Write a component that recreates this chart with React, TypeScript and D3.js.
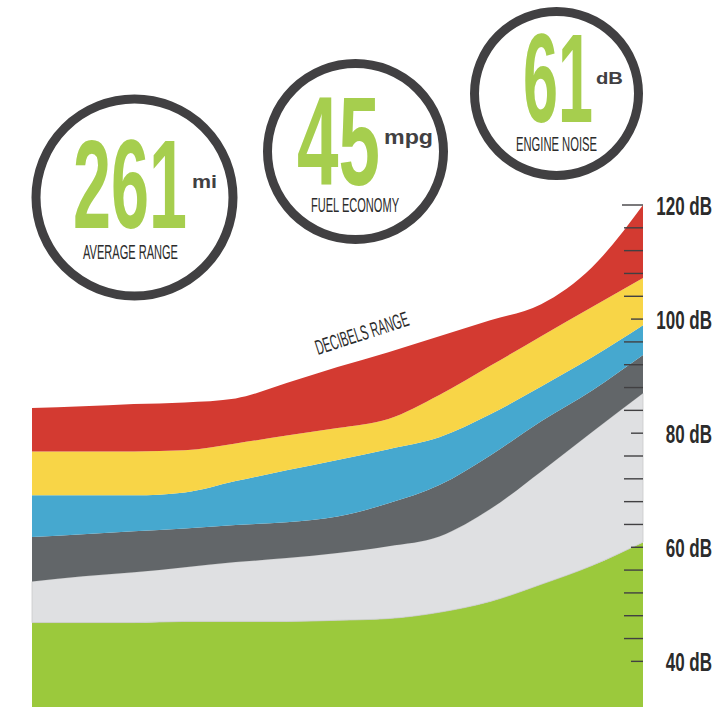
import React from 'react'
import * as d3 from 'd3'

// x positions along the chart (evenly spaced samples)
const POSITIONS = [0, 1, 2, 3, 4, 5, 6, 7, 8, 9, 10, 11, 12]

// upper edge of each band in dB, bottom to top
const GREEN_TOP = [46.8, 46.8, 46.8, 47.0, 47.0, 47.0, 47.2, 47.5, 48.6, 50.5, 53.5, 56.8, 60.9]
const LIGHT_GRAY_TOP = [54.0, 54.9, 55.6, 56.5, 57.4, 58.1, 59.0, 60.2, 61.9, 66.7, 73.3, 80.2, 87.0]
const DARK_GRAY_TOP = [61.8, 62.3, 62.8, 63.3, 63.9, 64.4, 65.4, 67.7, 70.9, 76.1, 82.1, 87.5, 93.7]
const BLUE_TOP = [69.1, 69.1, 69.1, 69.6, 71.6, 73.5, 75.3, 77.2, 79.3, 83.3, 88.2, 93.3, 98.9]
const YELLOW_TOP = [76.8, 76.8, 76.8, 77.0, 78.2, 79.6, 80.9, 82.5, 86.7, 91.8, 97.0, 102.1, 107.2]
const RED_TOP = [84.4, 84.7, 85.1, 85.4, 86.1, 88.8, 91.6, 94.2, 97.0, 99.8, 102.6, 109.1, 120]

const FLOOR_DB = 32
const BAND_TOPS = [GREEN_TOP, LIGHT_GRAY_TOP, DARK_GRAY_TOP, BLUE_TOP, YELLOW_TOP, RED_TOP]
const BAND_COLORS = ['#9bc93c', '#dfe0e2', '#626669', '#46a8cf', '#f8d547', '#d33a31']

// axis
const LABELED_TICKS = [40, 60, 80, 100, 120]
const AXIS_LABELS = ['40 dB', '60 dB', '80 dB', '100 dB', '120 dB']

// badges
const BADGE_VALUES = ['261', '45', '61']
const BADGE_UNITS = ['mi', 'mpg', 'dB']
const BADGE_LABELS = ['AVERAGE RANGE', 'FUEL ECONOMY', 'ENGINE NOISE']

const BADGE_LAYOUT = [
  { cx: 134.5, cy: 197.5, r: 98.5, num: [73, 228, 114], unit: [192, 188, 25, 19], label: [83, 259, 95] },
  { cx: 355.5, cy: 151.5, r: 88, num: [297, 185, 83], unit: [384, 144, 49, 21], label: [311, 212, 88] },
  { cx: 556.5, cy: 93.5, r: 82, num: [523, 122, 70], unit: [596, 84, 27, 17], label: [516, 151, 81] },
]

const W = 726
const H = 707
const PLOT_LEFT = 32
const PLOT_RIGHT = 643
const FONT = '"Liberation Sans", Arial, sans-serif'
const INK = '#414042'

export default function App() {
  const x = d3.scaleLinear().domain([0, 12]).range([PLOT_LEFT, PLOT_RIGHT])
  const y = d3.scaleLinear().domain([FLOOR_DB, 120]).range([H, 205])

  const bands = BAND_TOPS.map((top, i) => {
    const below = i === 0 ? POSITIONS.map(() => FLOOR_DB) : BAND_TOPS[i - 1]
    const area = d3
      .area<number>()
      .x((p) => x(p))
      .y0((p, j) => y(below[j]))
      .y1((p, j) => y(top[j]))
      .curve(d3.curveMonotoneX)
    return area(POSITIONS) || ''
  })

  const ticks = d3.range(40, 121, 4)

  return (
    <div style={{ position: 'absolute', left: 0, top: 0 }}>
      <svg width={W} height={H} style={{ display: 'block', background: '#fff' }}>
        {/* stacked bands */}
        {bands.map((d, i) => (
          <path
            key={i}
            d={d}
            fill={BAND_COLORS[i]}
            stroke={i === 1 ? '#c9cacc' : 'none'}
            strokeWidth={i === 1 ? 0.8 : 0}
          />
        ))}

        {/* axis ticks */}
        {ticks.map((t) => {
          const major = LABELED_TICKS.includes(t)
          const x1 = t === 120 ? 622 : major ? 631 : 624
          return (
            <line key={t} x1={x1} x2={PLOT_RIGHT} y1={y(t)} y2={y(t)} stroke={INK} strokeWidth={1.4} />
          )
        })}
        {LABELED_TICKS.map((t, i) => (
          <text
            key={t}
            transform={`translate(712,${y(t) + 9.5}) scale(0.68,1)`}
            textAnchor="end"
            fontFamily={FONT}
            fontWeight={700}
            fontSize={25}
            fill="#2b2b2b"
          >
            {AXIS_LABELS[i]}
          </text>
        ))}

        {/* rotated caption */}
        <text
          transform="translate(318,355) rotate(-18)"
          fontFamily={FONT}
          fontSize={21}
          fill="#2b2b2b"
          textLength={97}
          lengthAdjust="spacingAndGlyphs"
        >
          DECIBELS RANGE
        </text>

        {/* badges */}
        {BADGE_LAYOUT.map((b, i) => (
          <g key={i}>
            <circle cx={b.cx} cy={b.cy} r={b.r} fill="#fff" stroke={INK} strokeWidth={9} />
            <text
              x={b.num[0]}
              y={b.num[1]}
              fontFamily={FONT}
              fontWeight={700}
              fontSize={126}
              fill="#a6ce4e"
              textLength={b.num[2]}
              lengthAdjust="spacingAndGlyphs"
            >
              {BADGE_VALUES[i]}
            </text>
            <text
              x={b.unit[0]}
              y={b.unit[1]}
              fontFamily={FONT}
              fontWeight={700}
              fontSize={b.unit[3]}
              fill={INK}
              textLength={b.unit[2]}
              lengthAdjust="spacingAndGlyphs"
            >
              {BADGE_UNITS[i]}
            </text>
            <text
              x={b.label[0]}
              y={b.label[1]}
              fontFamily={FONT}
              fontSize={21}
              fill="#2b2b2b"
              textLength={b.label[2]}
              lengthAdjust="spacingAndGlyphs"
            >
              {BADGE_LABELS[i]}
            </text>
          </g>
        ))}
      </svg>
    </div>
  )
}
